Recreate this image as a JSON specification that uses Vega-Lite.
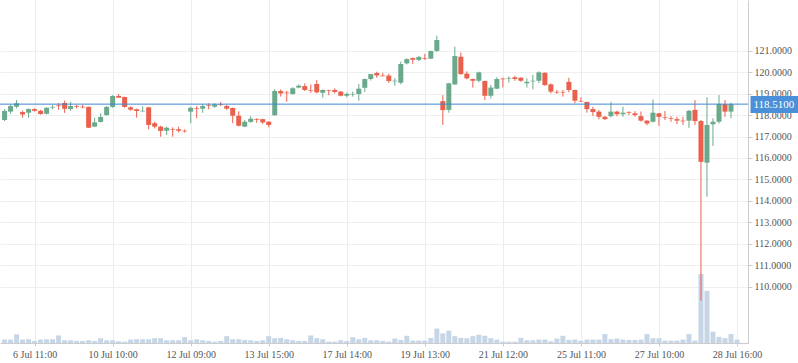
{
"$schema": "https://vega.github.io/schema/vega-lite/v6.json",
"width": 748, "height": 343,
"autosize": {"type": "none"},
"padding": {"left": 0, "top": 0, "right": 50, "bottom": 20},
"config": {"view": {"stroke": null}, "font": "Liberation Serif",
  "axis": {"labelFont": "Liberation Serif", "labelFontSize": 10, "labelColor": "#555555", "gridColor": "#efefef", "domainColor": "#cccccc", "tickColor": "#cccccc", "title": null}},
"data": {"values": [
{"i":0,"o":117.77,"h":118.28,"l":117.72,"c":118.19,"v":10},
{"i":1,"o":118.16,"h":118.50,"l":118.06,"c":118.42,"v":10},
{"i":2,"o":118.39,"h":118.70,"l":118.31,"c":118.55,"v":25},
{"i":3,"o":118.14,"h":118.21,"l":117.88,"c":118.03,"v":10},
{"i":4,"o":118.11,"h":118.31,"l":117.88,"c":118.28,"v":11},
{"i":5,"o":118.28,"h":118.31,"l":118.16,"c":118.20,"v":6},
{"i":6,"o":118.20,"h":118.24,"l":118.02,"c":118.05,"v":10},
{"i":7,"o":118.06,"h":118.36,"l":118.03,"c":118.34,"v":11},
{"i":8,"o":118.34,"h":118.47,"l":118.27,"c":118.37,"v":11},
{"i":9,"o":118.45,"h":118.56,"l":118.24,"c":118.42,"v":22},
{"i":10,"o":118.56,"h":118.67,"l":118.10,"c":118.30,"v":8},
{"i":11,"o":118.28,"h":118.62,"l":118.20,"c":118.42,"v":8},
{"i":12,"o":118.41,"h":118.48,"l":118.31,"c":118.38,"v":6},
{"i":13,"o":118.39,"h":118.47,"l":118.31,"c":118.36,"v":6},
{"i":14,"o":118.38,"h":118.40,"l":117.40,"c":117.41,"v":8},
{"i":15,"o":117.46,"h":117.88,"l":117.45,"c":117.66,"v":6},
{"i":16,"o":117.68,"h":118.08,"l":117.66,"c":117.91,"v":14},
{"i":17,"o":118.00,"h":118.42,"l":117.97,"c":118.38,"v":8},
{"i":18,"o":118.38,"h":118.93,"l":118.34,"c":118.89,"v":8},
{"i":19,"o":118.89,"h":118.98,"l":118.80,"c":118.81,"v":5},
{"i":20,"o":118.84,"h":118.86,"l":118.34,"c":118.38,"v":4},
{"i":21,"o":118.36,"h":118.41,"l":118.20,"c":118.25,"v":10},
{"i":22,"o":118.27,"h":118.30,"l":117.88,"c":118.19,"v":11},
{"i":23,"o":118.17,"h":118.41,"l":118.16,"c":118.20,"v":11},
{"i":24,"o":118.36,"h":118.38,"l":117.34,"c":117.54,"v":11},
{"i":25,"o":117.62,"h":117.69,"l":117.38,"c":117.46,"v":14},
{"i":26,"o":117.46,"h":117.50,"l":116.99,"c":117.26,"v":14},
{"i":27,"o":117.27,"h":117.46,"l":117.07,"c":117.41,"v":8},
{"i":28,"o":117.35,"h":117.43,"l":116.99,"c":117.32,"v":8},
{"i":29,"o":117.34,"h":117.46,"l":117.18,"c":117.27,"v":8},
{"i":30,"o":117.27,"h":117.33,"l":117.18,"c":117.24,"v":17},
{"i":31,"o":118.16,"h":118.39,"l":117.62,"c":118.34,"v":8},
{"i":32,"o":118.33,"h":118.42,"l":117.85,"c":118.30,"v":11},
{"i":33,"o":118.30,"h":118.52,"l":118.11,"c":118.42,"v":8},
{"i":34,"o":118.45,"h":118.55,"l":118.27,"c":118.42,"v":6},
{"i":35,"o":118.39,"h":118.55,"l":118.34,"c":118.50,"v":4},
{"i":36,"o":118.50,"h":118.61,"l":118.42,"c":118.47,"v":6},
{"i":37,"o":118.42,"h":118.47,"l":118.24,"c":118.30,"v":20},
{"i":38,"o":118.33,"h":118.35,"l":117.62,"c":117.97,"v":11},
{"i":39,"o":117.97,"h":118.17,"l":117.48,"c":117.50,"v":11},
{"i":40,"o":117.46,"h":117.77,"l":117.44,"c":117.69,"v":9},
{"i":41,"o":117.68,"h":117.95,"l":117.64,"c":117.83,"v":8},
{"i":42,"o":117.80,"h":117.86,"l":117.64,"c":117.77,"v":6},
{"i":43,"o":117.81,"h":117.83,"l":117.58,"c":117.66,"v":8},
{"i":44,"o":117.69,"h":117.71,"l":117.43,"c":117.54,"v":20},
{"i":45,"o":117.99,"h":119.21,"l":117.97,"c":119.12,"v":14},
{"i":46,"o":119.12,"h":119.20,"l":118.86,"c":119.01,"v":15},
{"i":47,"o":119.05,"h":119.13,"l":118.62,"c":119.02,"v":11},
{"i":48,"o":118.98,"h":119.30,"l":118.96,"c":119.25,"v":8},
{"i":49,"o":119.28,"h":119.43,"l":119.25,"c":119.37,"v":6},
{"i":50,"o":119.35,"h":119.48,"l":119.12,"c":119.17,"v":6},
{"i":51,"o":119.17,"h":119.43,"l":119.04,"c":119.14,"v":22},
{"i":52,"o":119.45,"h":119.63,"l":119.01,"c":119.06,"v":14},
{"i":53,"o":119.04,"h":119.20,"l":118.81,"c":119.17,"v":11},
{"i":54,"o":119.17,"h":119.18,"l":118.93,"c":119.14,"v":4},
{"i":55,"o":119.17,"h":119.25,"l":119.01,"c":119.08,"v":4},
{"i":56,"o":119.09,"h":119.13,"l":118.87,"c":118.90,"v":8},
{"i":57,"o":118.90,"h":119.05,"l":118.83,"c":118.99,"v":6},
{"i":58,"o":118.96,"h":119.09,"l":118.86,"c":118.99,"v":17},
{"i":59,"o":118.98,"h":119.45,"l":118.67,"c":119.23,"v":11},
{"i":60,"o":119.27,"h":119.70,"l":119.08,"c":119.68,"v":15},
{"i":61,"o":119.68,"h":119.92,"l":119.61,"c":119.91,"v":8},
{"i":62,"o":119.96,"h":120.02,"l":119.74,"c":119.85,"v":8},
{"i":63,"o":119.84,"h":119.97,"l":119.80,"c":119.81,"v":6},
{"i":64,"o":119.84,"h":119.93,"l":119.50,"c":119.59,"v":4},
{"i":65,"o":119.57,"h":119.72,"l":119.37,"c":119.60,"v":13},
{"i":66,"o":119.51,"h":120.49,"l":119.43,"c":120.38,"v":9},
{"i":67,"o":120.41,"h":120.64,"l":120.36,"c":120.61,"v":21},
{"i":68,"o":120.66,"h":120.68,"l":120.39,"c":120.58,"v":7},
{"i":69,"o":120.57,"h":120.76,"l":120.52,"c":120.71,"v":7},
{"i":70,"o":120.66,"h":120.85,"l":120.57,"c":120.63,"v":7},
{"i":71,"o":120.63,"h":121.00,"l":120.61,"c":120.99,"v":15},
{"i":72,"o":120.99,"h":121.70,"l":120.95,"c":121.50,"v":42},
{"i":73,"o":118.65,"h":118.93,"l":117.54,"c":118.23,"v":28},
{"i":74,"o":118.24,"h":119.50,"l":118.11,"c":119.48,"v":36},
{"i":75,"o":119.43,"h":121.19,"l":119.40,"c":120.75,"v":20},
{"i":76,"o":120.72,"h":120.91,"l":119.88,"c":119.91,"v":15},
{"i":77,"o":119.93,"h":120.04,"l":119.67,"c":119.71,"v":14},
{"i":78,"o":119.68,"h":119.70,"l":119.28,"c":119.60,"v":20},
{"i":79,"o":119.60,"h":120.02,"l":119.53,"c":119.99,"v":24},
{"i":80,"o":119.59,"h":119.60,"l":118.70,"c":118.90,"v":21},
{"i":81,"o":118.90,"h":119.40,"l":118.78,"c":119.28,"v":14},
{"i":82,"o":119.23,"h":119.76,"l":119.21,"c":119.68,"v":10},
{"i":83,"o":119.70,"h":119.74,"l":119.29,"c":119.67,"v":4},
{"i":84,"o":119.70,"h":119.80,"l":119.51,"c":119.73,"v":4},
{"i":85,"o":119.76,"h":119.83,"l":119.60,"c":119.68,"v":4},
{"i":86,"o":119.74,"h":119.76,"l":119.55,"c":119.60,"v":15},
{"i":87,"o":119.48,"h":119.71,"l":119.28,"c":119.55,"v":8},
{"i":88,"o":119.57,"h":119.87,"l":119.20,"c":119.60,"v":8},
{"i":89,"o":119.60,"h":120.04,"l":119.49,"c":119.99,"v":10},
{"i":90,"o":119.97,"h":119.99,"l":119.36,"c":119.40,"v":10},
{"i":91,"o":119.43,"h":119.48,"l":119.01,"c":119.09,"v":5},
{"i":92,"o":119.08,"h":119.17,"l":118.99,"c":119.05,"v":13},
{"i":93,"o":119.08,"h":119.17,"l":118.86,"c":119.05,"v":21},
{"i":94,"o":119.55,"h":119.74,"l":119.06,"c":119.17,"v":9},
{"i":95,"o":119.17,"h":119.19,"l":118.55,"c":118.67,"v":10},
{"i":96,"o":118.66,"h":118.83,"l":118.61,"c":118.63,"v":7},
{"i":97,"o":118.61,"h":118.63,"l":118.11,"c":118.28,"v":10},
{"i":98,"o":118.28,"h":118.39,"l":117.96,"c":118.14,"v":10},
{"i":99,"o":118.16,"h":118.24,"l":117.80,"c":117.92,"v":10},
{"i":100,"o":117.92,"h":117.95,"l":117.77,"c":117.81,"v":26},
{"i":101,"o":117.95,"h":118.62,"l":117.89,"c":118.16,"v":11},
{"i":102,"o":118.16,"h":118.20,"l":117.95,"c":118.04,"v":13},
{"i":103,"o":118.04,"h":118.39,"l":117.92,"c":118.11,"v":10},
{"i":104,"o":118.13,"h":118.18,"l":118.00,"c":118.10,"v":9},
{"i":105,"o":118.08,"h":118.18,"l":117.92,"c":118.00,"v":9},
{"i":106,"o":117.95,"h":118.17,"l":117.69,"c":117.74,"v":10},
{"i":107,"o":117.74,"h":117.76,"l":117.52,"c":117.61,"v":26},
{"i":108,"o":117.69,"h":118.73,"l":117.66,"c":118.11,"v":14},
{"i":109,"o":118.08,"h":118.10,"l":117.50,"c":117.92,"v":14},
{"i":110,"o":117.91,"h":118.19,"l":117.77,"c":117.88,"v":7},
{"i":111,"o":117.86,"h":117.95,"l":117.69,"c":117.83,"v":7},
{"i":112,"o":117.81,"h":117.92,"l":117.58,"c":117.74,"v":7},
{"i":113,"o":117.74,"h":117.92,"l":117.54,"c":117.71,"v":10},
{"i":114,"o":117.74,"h":118.24,"l":117.40,"c":118.20,"v":26},
{"i":115,"o":118.24,"h":118.70,"l":117.54,"c":117.72,"v":7},
{"i":116,"o":117.72,"h":117.77,"l":109.35,"c":115.82,"v":201},
{"i":117,"o":115.78,"h":118.83,"l":114.19,"c":117.54,"v":152},
{"i":118,"o":117.57,"h":117.85,"l":116.56,"c":117.69,"v":33},
{"i":119,"o":117.69,"h":118.93,"l":117.61,"c":118.52,"v":18},
{"i":120,"o":118.51,"h":118.70,"l":117.92,"c":118.16,"v":14},
{"i":121,"o":118.16,"h":118.58,"l":117.85,"c":118.51,"v":26},
{"i":122,"o":118.51,"h":118.51,"l":118.51,"c":118.51,"v":10}
]},
"layer": [
{"mark": {"type": "bar", "orient": "vertical", "size": 5, "color": "#c6d6e7"},
 "encoding": {
  "x": {"field": "i", "type": "quantitative", "scale": {"domain": [0.07, 123], "nice": false, "zero": false},
   "axis": {"values": [5,18,31,44,57,70,83,96,109,122], "grid": true, "gridColor": "#ececec", "tickSize": 3, "labelPadding": 3, "labelFlush": false, "labelOverlap": false, "labelBound": false,
    "labelExpr": "datum.value == 5 ? '6 Jul 11:00' : datum.value == 18 ? '10 Jul 10:00' : datum.value == 31 ? '12 Jul 09:00' : datum.value == 44 ? '13 Jul 15:00' : datum.value == 57 ? '17 Jul 14:00' : datum.value == 70 ? '19 Jul 13:00' : datum.value == 83 ? '21 Jul 12:00' : datum.value == 96 ? '25 Jul 11:00' : datum.value == 109 ? '27 Jul 10:00' : '28 Jul 16:00'"}},
  "y": {"field": "v", "type": "quantitative", "scale": {"domain": [0, 1000]}, "axis": null}}},
{"mark": {"type": "rule", "strokeWidth": 1},
 "encoding": {
  "x": {"field": "i", "type": "quantitative", "scale": {"domain": [0.07, 123], "nice": false, "zero": false},
   "axis": {"values": [5,18,31,44,57,70,83,96,109,122], "grid": true, "gridColor": "#ececec", "tickSize": 3, "labelPadding": 3, "labelFlush": false, "labelOverlap": false, "labelBound": false,
    "labelExpr": "datum.value == 5 ? '6 Jul 11:00' : datum.value == 18 ? '10 Jul 10:00' : datum.value == 31 ? '12 Jul 09:00' : datum.value == 44 ? '13 Jul 15:00' : datum.value == 57 ? '17 Jul 14:00' : datum.value == 70 ? '19 Jul 13:00' : datum.value == 83 ? '21 Jul 12:00' : datum.value == 96 ? '25 Jul 11:00' : datum.value == 109 ? '27 Jul 10:00' : '28 Jul 16:00'"}},
  "y": {"field": "l", "type": "quantitative", "scale": {"domain": [107.375, 123.364], "nice": false, "zero": false},
   "axis": {"orient": "right", "values": [110,111,112,113,114,115,116,117,118,119,120,121], "format": ".4f", "grid": true, "gridColor": "#efefef", "tickSize": 4, "labelPadding": 2}},
  "y2": {"field": "h"},
  "color": {"condition": {"test": "datum.c >= datum.o", "value": "#6aa98b"}, "value": "#e9604d"}}},
{"mark": {"type": "bar", "orient": "vertical", "size": 5},
 "encoding": {
  "x": {"field": "i", "type": "quantitative", "scale": {"domain": [0.07, 123], "nice": false, "zero": false},
   "axis": {"values": [5,18,31,44,57,70,83,96,109,122], "grid": true, "gridColor": "#ececec", "tickSize": 3, "labelPadding": 3, "labelFlush": false, "labelOverlap": false, "labelBound": false,
    "labelExpr": "datum.value == 5 ? '6 Jul 11:00' : datum.value == 18 ? '10 Jul 10:00' : datum.value == 31 ? '12 Jul 09:00' : datum.value == 44 ? '13 Jul 15:00' : datum.value == 57 ? '17 Jul 14:00' : datum.value == 70 ? '19 Jul 13:00' : datum.value == 83 ? '21 Jul 12:00' : datum.value == 96 ? '25 Jul 11:00' : datum.value == 109 ? '27 Jul 10:00' : '28 Jul 16:00'"}},
  "y": {"field": "o", "type": "quantitative", "scale": {"domain": [107.375, 123.364], "nice": false, "zero": false}, "axis": null},
  "y2": {"field": "c"},
  "color": {"condition": {"test": "datum.c >= datum.o", "value": "#6aa98b"}, "value": "#e9604d"}}},
{"data": {"values": [{"last": 118.51}]},
 "mark": {"type": "rule", "color": "#3f87cf", "strokeWidth": 1},
 "encoding": {
  "y": {"field": "last", "type": "quantitative", "scale": {"domain": [107.375, 123.364], "nice": false, "zero": false},
   "axis": {"orient": "right", "values": [118.51], "format": ".4f", "domain": false, "grid": false, "tickSize": 48, "tickWidth": 17, "tickColor": "#4a8fd8", "tickRound": true, "offset": 2, "labelColor": "#ffffff", "labelFontSize": 11, "labelPadding": -45, "zindex": 1}}}}
],
"resolve": {"scale": {"y": "independent"}, "axis": {"y": "independent"}}
}
